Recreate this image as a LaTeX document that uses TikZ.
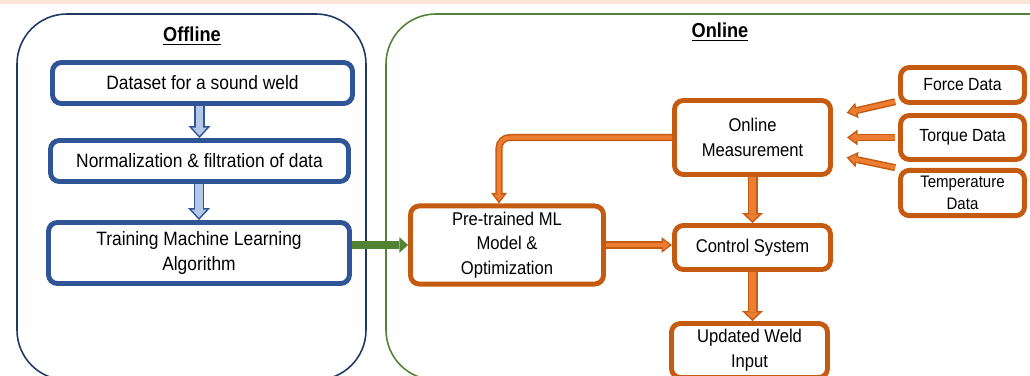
\documentclass[tikz,border=0pt]{standalone}
\usepackage{fontspec}
\setmainfont[FakeStretch=0.9]{Liberation Sans}
\usetikzlibrary{positioning,arrows.meta}
\usepackage{xcolor}

\definecolor{peach}{HTML}{FBE5D6}
\definecolor{navyline}{HTML}{1F3864}
\definecolor{boxblue}{HTML}{2F5597}
\definecolor{arrowblue}{HTML}{B4C7E7}
\definecolor{orangedark}{HTML}{C55A11}
\definecolor{orangelight}{HTML}{ED7D31}
\definecolor{greenline}{HTML}{548235}

\tikzset{
	bluebox/.style={draw=boxblue, line width=2.8pt, rounded corners=5pt, fill=white, align=center, font=\fontsize{11}{14.5}\selectfont},
	orangebox/.style={draw=orangedark, line width=2.8pt, rounded corners=5pt, fill=white, align=center, font=\fontsize{10.5}{14}\selectfont},
	title/.style={font=\bfseries\fontsize{11.5}{14}\selectfont},
	bluearrow/.style={draw=boxblue, line width=6.2pt, -{Triangle[length=6.8pt,width=12.5pt,line width=0pt]},
		postaction={draw=arrowblue, line width=4.5pt, shorten >=1.3pt, -{Triangle[length=4.7pt,width=8.6pt,line width=0pt]}}},
	oarrow/.style={draw=orangedark, line width=4pt, shorten >=#1, -{Triangle[length=6pt,width=9pt,line width=0pt]},
		postaction={draw=orangelight, line width=2.3pt, shorten >=#1+1.4pt, -{Triangle[length=3.7pt,width=5.6pt,line width=0pt]}}},
	oarrow/.default=0pt,
	othick/.style={draw=orangedark, line width=5.7pt, -{Triangle[length=5.7pt,width=12pt,line width=0pt]},
		postaction={draw=orangelight, line width=4pt, shorten >=1.2pt, -{Triangle[length=3.7pt,width=7.7pt,line width=0pt]}}},
	greenarrow/.style={draw=greenline, line width=4pt, -{Triangle[length=5pt,width=9pt,line width=0pt]}}
}

\begin{document}
\begin{tikzpicture}[x=0.02cm,y=-0.02cm]
	\useasboundingbox (0,0) rectangle (1030,375);
	\fill[peach] (0,0) rectangle (1030,4);
	
	% Offline and online areas
	\begin{scope}
		\clip (0,0) rectangle (1030,375);
		\draw[navyline, line width=0.9pt, rounded corners=1cm] (17,14) rectangle (366,380);
		\draw[greenline, line width=0.9pt, rounded corners=1cm] (386,14) rectangle (1080,380);
	\end{scope}
	\node[title] (offtitle) at (192,36) {\underline{Offline}};
	\node[title] (ontitle) at (720,32) {\underline{Online}};
	
	% Offline boxes
	\node[bluebox, minimum width=6cm, minimum height=0.82cm] (data) at (202.5,83) {Dataset for a sound weld};
	\node[bluebox, minimum width=5.96cm, minimum height=0.82cm] (norm) at (199.5,161) {Normalization \& filtration of data};
	\node[bluebox, minimum width=6.02cm, minimum height=1.22cm] (train) at (199,253) {Training Machine Learning\\Algorithm};
	
	% Online boxes
	\node[orangebox, minimum width=3.86cm, minimum height=1.42cm] (pre) at (507,245) {Pre-trained ML\\Model \&\\Optimization};
	\node[orangebox, minimum width=3.12cm, minimum height=1.48cm] (meas) at (752.5,137.5) {Online\\Measurement};
	\node[orangebox, minimum width=3.12cm, minimum height=0.88cm] (ctrl) at (752.5,247.5) {Control System};
	\node[orangebox, minimum width=3.12cm, minimum height=1.08cm] (upd) at (749.5,350.5) {Updated Weld\\Input};
	
	% Sensor data
	\node[orangebox, font=\fontsize{10}{12}\selectfont, minimum width=2.48cm, minimum height=0.7cm] (force) at (962.5,85) {Force Data};
	\node[orangebox, font=\fontsize{10}{12}\selectfont, minimum width=2.48cm, minimum height=0.88cm] (torque) at (962.5,137.5) {Torque Data};
	\node[orangebox, font=\fontsize{9.5}{12.5}\selectfont, minimum width=2.48cm, minimum height=0.9cm] (temp) at (962.5,193) {Temperature\\Data};
	
	% Arrows
	\draw[bluearrow] (norm.north |- data.south) -- (norm.north);
	\draw[bluearrow] (train.north |- norm.south) -- (train.north);
	\draw[greenarrow] (train.east |- pre.west) -- (pre.west);
	\draw[oarrow, rounded corners=6pt] (meas.west) -| ([xshift=-0.16cm]pre.north);
	\draw[oarrow] (pre.east) -- (pre.east -| ctrl.west);
	\draw[othick] (meas.south) -- (ctrl.north);
	\draw[othick] (ctrl.south) -- (ctrl.south |- upd.north);
	\draw[oarrow=8pt, shorten <=1.7pt] (force.194) -- (meas.15);
	\draw[oarrow=8pt, shorten <=1.7pt] (torque.west) -- (meas.east);
	\draw[oarrow=8pt, shorten <=1.7pt] (temp.159) -- (meas.-12);
\end{tikzpicture}
\end{document}
